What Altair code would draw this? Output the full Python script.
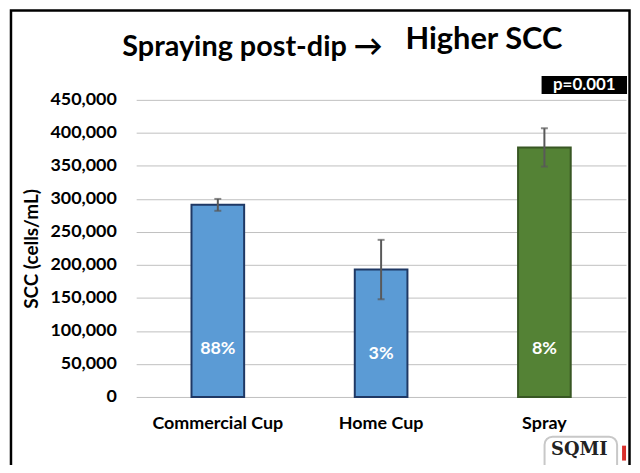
import altair as alt
import pandas as pd

categories = ["Commercial Cup", "Home Cup", "Spray"]
scc_mean = [291000, 193000, 378000]
err_low = [282000, 148000, 349000]
err_high = [300000, 238000, 407000]
pct_labels = ["88%", "3%", "8%"]
y_ticks = [0, 50000, 100000, 150000, 200000, 250000, 300000, 350000, 400000, 450000]

FONT = "Lato"

df = pd.DataFrame({
    "cat": categories,
    "scc": scc_mean,
    "lo": err_low,
    "hi": err_high,
    "pct": pct_labels,
})

x_axis = alt.Axis(labelAngle=0, ticks=False, domain=False, grid=False, labelPadding=18,
                  labelFont=FONT, labelFontSize=18, labelFontWeight="bold",
                  labelColor="black")
y_axis = alt.Axis(values=y_ticks, format=",d", ticks=False, domain=False,
                  labelOverlap=False, labelPadding=20, labelFont=FONT, labelFontSize=18,
                  labelFontWeight="bold", labelColor="black",
                  titleFont=FONT, titleFontSize=19, titleFontWeight="bold",
                  titleColor="black", titlePadding=8,
                  grid=True, gridColor="#BFBFBF", gridWidth=1)
x_scale = alt.Scale(paddingInner=0, paddingOuter=0)
y_scale = alt.Scale(domain=[0, 450000], nice=False, zero=True)
YT = "SCC (cells/mL)"

def xe():
    return alt.X("cat:N", sort=categories, title=None, scale=x_scale, axis=x_axis)

def ye(field):
    return alt.Y(field, scale=y_scale, title=YT, axis=y_axis)

base = alt.Chart(df)

bars = base.mark_bar(size=53, strokeWidth=2).encode(
    x=xe(),
    y=ye("scc:Q"),
    fill=alt.Fill("cat:N", scale=alt.Scale(domain=categories,
                  range=["#5B9BD5", "#5B9BD5", "#548235"]), legend=None),
    stroke=alt.Stroke("cat:N", scale=alt.Scale(domain=categories,
                      range=["#1F3864", "#1F3864", "#385723"]), legend=None),
)

err_rule = base.mark_rule(color="#595959", strokeWidth=2).encode(
    x=xe(), y=ye("lo:Q"), y2="hi:Q")
cap_lo = base.mark_tick(color="#595959", size=7, thickness=2).encode(
    x=xe(), y=ye("lo:Q"))
cap_hi = base.mark_tick(color="#595959", size=7, thickness=2).encode(
    x=xe(), y=ye("hi:Q"))

pct_text = base.transform_calculate(
    ly="datum.pct == '3%' ? 65000 : 72000"
).mark_text(color="white", font=FONT, fontSize=18, fontWeight="bold", baseline="middle").encode(
    x=xe(), y=ye("ly:Q"), text="pct:N")

one = pd.DataFrame({"k": [0]})

border = alt.Chart(one).mark_rect(fillOpacity=0, stroke="black", strokeWidth=2.5).encode(
    x=alt.value(-126), x2=alt.value(496.5), y=alt.value(-90), y2=alt.value(390))

title1 = alt.Chart(one).mark_text(font=FONT, fontSize=29, fontWeight="bold", align="left",
                                  baseline="alphabetic", color="black").encode(
    x=alt.value(-14), y=alt.value(-44), text=alt.value("Spraying post-dip \u2192"))
title2 = alt.Chart(one).mark_text(font=FONT, fontSize=31, fontWeight="bold", align="left",
                                  baseline="alphabetic", color="black").encode(
    x=alt.value(271), y=alt.value(-51), text=alt.value("Higher SCC"))

pbox = alt.Chart(one).mark_rect(fill="black").encode(
    x=alt.value(408), x2=alt.value(494), y=alt.value(-24), y2=alt.value(-6))
ptext = alt.Chart(one).mark_text(font=FONT, fontSize=17, fontWeight="bold", color="white",
                                 align="center", baseline="middle").encode(
    x=alt.value(451), y=alt.value(-15), text=alt.value("p=0.001"))

logo_box = alt.Chart(one).mark_rect(fillOpacity=0, stroke="#C8C8C8", strokeWidth=2,
                                    cornerRadius=8).encode(
    x=alt.value(411), x2=alt.value(484), y=alt.value(339), y2=alt.value(380))
logo_cap = alt.Chart(one).mark_rect(fill="#D9302C").encode(
    x=alt.value(489), x2=alt.value(493), y=alt.value(348), y2=alt.value(363))
logo_text = alt.Chart(one).mark_text(font="DejaVu Serif", fontSize=18, fontWeight="bold",
                                     color="#222222", align="center", baseline="middle").encode(
    x=alt.value(446), y=alt.value(352), text=alt.value("SQMI"))

chart = alt.layer(
    bars, err_rule, cap_lo, cap_hi, pct_text,
    border, title1, title2, pbox, ptext, logo_box, logo_cap, logo_text
).properties(
    width=493, height=299,
    background="white",
    padding={"left": 129, "top": 91, "right": 6, "bottom": 67},
    autosize=alt.AutoSizeParams(type="none"),
).configure_view(stroke=None)

chart.save("out.html", embed_options={"renderer": "svg", "actions": False})
